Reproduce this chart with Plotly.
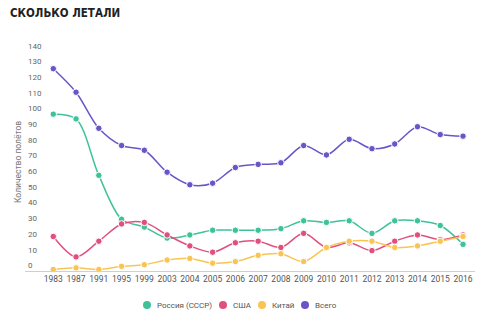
import plotly.graph_objects as go

years = ["1983", "1987", "1991", "1995", "1999", "2003", "2004", "2005", "2006", "2007",
         "2008", "2009", "2010", "2011", "2012", "2013", "2014", "2015", "2016"]
russia = [100, 97, 61, 33, 28, 21, 23, 26, 26, 26, 27, 32, 31, 32, 24, 32, 32, 29, 17]
usa = [22, 9, 19, 30, 31, 23, 16, 12, 18, 19, 15, 24, 15, 18, 13, 19, 23, 20, 23]
china = [1, 2, 1, 3, 4, 7, 8, 5, 6, 10, 11, 6, 15, 19, 19, 15, 16, 19, 22]
total = [129, 114, 91, 80, 77, 63, 55, 56, 66, 68, 69, 80, 74, 84, 78, 81, 92, 87, 86]
y_ticks = list(range(0, 141, 10))

series = [
    ("Россия (СССР)", russia, "#3fc29a"),
    ("США", usa, "#e0507f"),
    ("Китай", china, "#f8c554"),
    ("Всего", total, "#6a55c8"),
]
legend_marker_px = [147, 223, 262, 305]

W, H = 500, 326
ML, MR, MT, MB = 25, 25, 40, 55
PW, PH = W - ML - MR, H - MT - MB

idx = list(range(len(years)))
fig = go.Figure()
for name, vals, color in series:
    fig.add_trace(go.Scatter(
        x=idx, y=vals, mode="lines+markers", name=name, showlegend=False,
        line=dict(color=color, width=1.5, shape="spline", smoothing=0.9),
        marker=dict(color=color, size=6.5, line=dict(color="white", width=1)),
        cliponaxis=False,
    ))

fig.update_layout(
    width=W, height=H,
    margin=dict(l=ML, r=MR, t=MT, b=MB),
    paper_bgcolor="white", plot_bgcolor="white",
    font=dict(family="Roboto", color="#555"),
    showlegend=False,
    title=dict(text="<b>СКОЛЬКО ЛЕТАЛИ</b>", xref="container", yref="container",
               x=0.02, xanchor="left", y=1 - 12.5 / H, yanchor="middle",
               font=dict(family="Liberation Sans Narrow, DejaVu Sans Condensed, sans-serif",
                         size=11.5, color="#222")),
    xaxis=dict(range=[-1.243, 18.527], tickvals=idx, ticktext=years, showgrid=False,
               zeroline=False, showline=True, linecolor="#cfcfcf", linewidth=1,
               ticks="", tickfont=dict(size=8.5, color="#555")),
    yaxis=dict(range=[0, 147.3], tickvals=y_ticks, showgrid=False, zeroline=False,
               showline=False, ticks="", ticklabelposition="inside top",
               ticklabelstandoff=0,
               tickfont=dict(size=8, color="#666")),
)
fig.add_annotation(text="Количество полётов", xref="paper", yref="paper",
                   x=(18 - ML) / PW, y=(H - MB - 162) / PH, textangle=-90,
                   showarrow=False, font=dict(size=8.5, color="#777"),
                   xanchor="center", yanchor="middle")

# legend (circle + label) below the axis
ly = (H - MB - 305) / PH
for (name, vals, color), px in zip(series, legend_marker_px):
    xc = (px - ML) / PW
    fig.add_shape(type="circle", xref="paper", yref="paper",
                  xsizemode="pixel", ysizemode="pixel", xanchor=xc, yanchor=ly,
                  x0=-4, x1=4, y0=-4, y1=4, fillcolor=color, line=dict(width=0))
    fig.add_annotation(text=name, xref="paper", yref="paper", x=(px + 8 - ML) / PW, y=ly,
                       xanchor="left", yanchor="middle", showarrow=False,
                       font=dict(size=8, color="#555"))

fig.write_html("out.html")
